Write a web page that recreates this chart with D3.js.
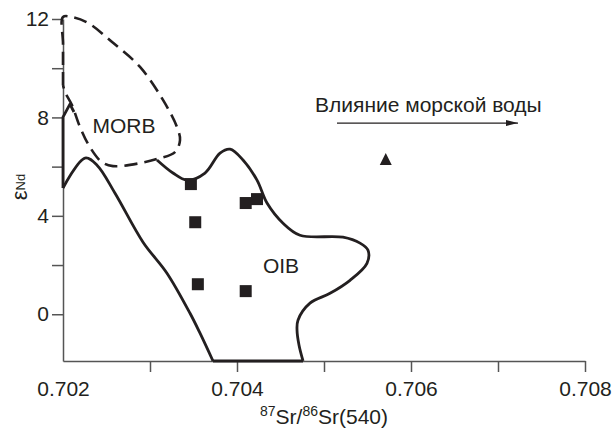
<!DOCTYPE html>
<html>
<head>
<meta charset="utf-8">
<script src="https://cdn.jsdelivr.net/npm/d3@7"></script>
<style>
  body { margin: 0; background: #fff; }
  text { font-family: "Liberation Sans", Arial, sans-serif; fill: #231f20; }
  .axis path, .axis line { stroke: #555; stroke-width: 1.5; }
  .axis text { font-size: 21px; fill: #231f20; }
</style>
</head>
<body>
<div id="chart"></div>
<script>
// sample points (87Sr/86Sr, eNd)
var squaresX = [0.70347, 0.70352, 0.70355, 0.70410, 0.70423, 0.70410];
var squaresY = [5.29, 3.74, 1.22, 4.52, 4.68, 0.94];
var triangleX = [0.70571];
var triangleY = [6.27];

// MORB field (dashed outline)
var morbField = [
  [0.702, 9.32], [0.702, 11.0], [0.702, 12.08], [0.702103, 12.08], [0.702287, 11.84],
  [0.702575, 11.03], [0.702885, 10.05], [0.703149, 8.71], [0.703310, 7.61],
  [0.703345, 7.08], [0.703287, 6.59], [0.703080, 6.31], [0.702885, 6.14],
  [0.702575, 6.02], [0.702448, 6.18], [0.702310, 6.79], [0.702195, 7.61],
  [0.702103, 8.50], [0.702023, 9.03], [0.702, 9.32]
];

// OIB field (solid outline), split at its sharp corners
var oibSpike = [[0.702126, 8.22], [0.702080, 8.54], [0.702, 8.01], [0.702, 5.13]];
var oibLeft = [
  [0.702, 5.13], [0.702253, 6.35], [0.702391, 6.06], [0.702598, 4.92],
  [0.702920, 2.93], [0.703195, 1.67], [0.703460, 0.04], [0.703575, -0.77], [0.703724, -1.9]
];
var oibBase = [[0.703724, -1.9], [0.704759, -1.9]];
var oibRight = [
  [0.704759, -1.9], [0.704713, -1.26], [0.704690, -0.65], [0.704701, -0.24],
  [0.704839, 0.45], [0.705069, 0.85], [0.705299, 1.38], [0.705494, 2.07],
  [0.705506, 2.60], [0.705414, 2.89], [0.705218, 3.13], [0.704724, 3.21],
  [0.704529, 3.70], [0.704345, 4.52], [0.704230, 5.45], [0.704069, 6.27],
  [0.703920, 6.71], [0.703805, 6.55], [0.703632, 5.74], [0.703425, 5.45],
  [0.703264, 5.74], [0.703080, 6.27]
];

var xTicks = [0.702, 0.703, 0.704, 0.705, 0.706, 0.707, 0.708];
var xTickLabels = ["0.702", "", "0.704", "", "0.706", "", "0.708"];
var yTicks = [0, 2, 4, 6, 8, 10, 12];
var yTickLabels = ["0", "", "4", "", "8", "", "12"];

var chartWidth = 612, chartHeight = 428;
var margin = {top: 19, right: 27, bottom: 67, left: 63},
    width = chartWidth - margin.left - margin.right,
    height = chartHeight - margin.top - margin.bottom;

var x = d3.scaleLinear().domain([0.702, 0.708]).range([0, width]);
var y = d3.scaleLinear().domain([-1.9, 12]).range([height, 0]);

var svg = d3.select("#chart").append("svg")
    .attr("width", chartWidth)
    .attr("height", chartHeight)
    .append("g")
    .attr("transform", "translate(" + margin.left + "," + margin.top + ")");

var xAxis = d3.axisBottom(x)
    .tickValues(xTicks)
    .tickSize(11)
    .tickSizeOuter(0)
    .tickPadding(9)
    .tickFormat(function(d, i) { return xTickLabels[i]; });

var yAxis = d3.axisLeft(y)
    .tickValues(yTicks)
    .tickSize(11)
    .tickSizeOuter(0)
    .tickPadding(3)
    .tickFormat(function(d, i) { return yTickLabels[i]; });

var gx = svg.append("g")
    .attr("class", "x axis")
    .attr("transform", "translate(0," + height + ")")
    .call(xAxis);
gx.selectAll(".tick").filter(function(d, i) { return i == 0; }).select("line").remove();

svg.append("g")
    .attr("class", "y axis")
    .call(yAxis);

// axis titles
svg.append("text")
    .attr("x", width / 2)
    .attr("y", height + 63)
    .attr("text-anchor", "middle")
    .style("font-size", "21px")
    .call(function(t) {
      t.append("tspan").text("87").style("font-size", "14px").attr("dy", "-8");
      t.append("tspan").text("Sr/").attr("dy", "8");
      t.append("tspan").text("86").style("font-size", "14px").attr("dy", "-8");
      t.append("tspan").text("Sr(540)").attr("dy", "8");
    });

svg.append("text")
    .attr("transform", "translate(" + (27 - margin.left) + "," + (187 - margin.top) + ") rotate(-90)")
    .attr("text-anchor", "middle")
    .style("font-size", "22px")
    .call(function(t) {
      t.append("tspan").text("ε");
      t.append("tspan").text("Nd").style("font-size", "13px").attr("dy", "-2");
    });

var smooth = d3.line()
    .x(function(d) { return x(d[0]); })
    .y(function(d) { return y(d[1]); })
    .curve(d3.curveCatmullRom.alpha(0.5));
var straight = d3.line()
    .x(function(d) { return x(d[0]); })
    .y(function(d) { return y(d[1]); });

svg.append("path")
    .attr("d", smooth(morbField))
    .attr("fill", "none")
    .attr("stroke", "#231f20")
    .attr("stroke-width", 2.6)
    .attr("stroke-dasharray", "13,7");

[[oibSpike, straight], [oibLeft, smooth], [oibBase, straight], [oibRight, smooth]].forEach(function(s) {
  svg.append("path")
      .attr("d", s[1](s[0]))
      .attr("fill", "none")
      .attr("stroke", "#231f20")
      .attr("stroke-width", 2.8)
      .attr("stroke-linejoin", "round");
});

// field labels
svg.append("text")
    .attr("x", x(0.702701)).attr("y", y(7.36))
    .attr("text-anchor", "middle")
    .style("font-size", "21px")
    .text("MORB");
svg.append("text")
    .attr("x", x(0.704506)).attr("y", y(1.67))
    .attr("text-anchor", "middle")
    .style("font-size", "21px")
    .text("OIB");

// seawater annotation
svg.append("defs").append("marker")
    .attr("id", "arrow")
    .attr("viewBox", "0 0 12 6")
    .attr("refX", 12).attr("refY", 3)
    .attr("markerWidth", 12).attr("markerHeight", 6)
    .attr("markerUnits", "userSpaceOnUse")
    .attr("orient", "auto")
    .append("path")
    .attr("d", "M0,0L12,3L0,6Z")
    .attr("fill", "#231f20");

svg.append("text")
    .attr("x", x(0.704897)).attr("y", y(8.22))
    .style("font-size", "21px")
    .text("Влияние морской воды");
svg.append("line")
    .attr("x1", x(0.705149)).attr("x2", x(0.707230))
    .attr("y1", y(7.77)).attr("y2", y(7.77))
    .attr("stroke", "#231f20")
    .attr("stroke-width", 1.3)
    .attr("marker-end", "url(#arrow)");

// data markers
var sq = 12;
svg.selectAll(".sq")
    .data(squaresX)
    .enter()
    .append("rect")
    .attr("class", "sq")
    .attr("x", function(d) { return x(d) - sq / 2; })
    .attr("y", function(d, i) { return y(squaresY[i]) - sq / 2; })
    .attr("width", sq)
    .attr("height", sq)
    .attr("fill", "#231f20");

svg.selectAll(".tri")
    .data(triangleX)
    .enter()
    .append("path")
    .attr("class", "tri")
    .attr("transform", function(d, i) { return "translate(" + x(d) + "," + y(triangleY[i]) + ")"; })
    .attr("d", "M0,-7L6,5L-6,5Z")
    .attr("fill", "#231f20");
</script>
</body>
</html>
